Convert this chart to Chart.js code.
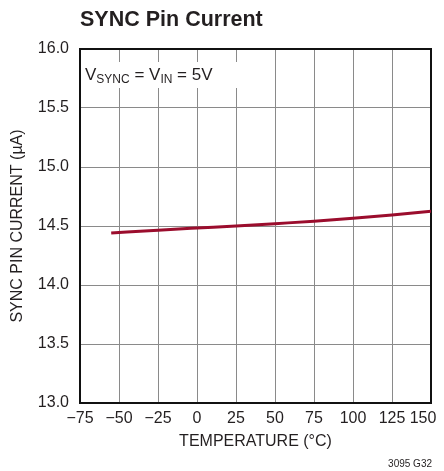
<!DOCTYPE html>
<html>
<head>
<meta charset="utf-8">
<script src="https://cdn.jsdelivr.net/npm/chart.js@4.4.0/dist/chart.umd.min.js"></script>
<style>
  html, body { margin: 0; padding: 0; background: #fff; }
  #wrap { width: 444px; height: 471px; position: relative; }
</style>
</head>
<body>
<div id="wrap"><canvas id="chart" width="444" height="471"></canvas></div>
<script>
// values
var temps = [-55, -25, 0, 25, 50, 75, 100, 125, 150];
var current = [14.44, 14.465, 14.483, 14.5, 14.52, 14.54, 14.565, 14.593, 14.625];
var xTicks = [-75, -50, -25, 0, 25, 50, 75, 100, 125, 150];
var yTicks = [13.0, 13.5, 14.0, 14.5, 15.0, 15.5, 16.0];

var FONT = '"Liberation Sans", Arial, sans-serif';
var INK = '#231f20';

// title, condition note, frame and part number, drawn on the canvas
var extras = {
  id: 'extras',
  beforeDatasetsDraw: function (chart) {
    var ctx = chart.ctx;
    var a = chart.chartArea;
    ctx.save();
    ctx.fillStyle = '#fff';
    ctx.fillRect(a.left + 1, a.top + 13, 164, 26);
    ctx.fillStyle = INK;
    ctx.textBaseline = 'alphabetic';
    ctx.textAlign = 'left';
    var x = a.left + 5, y = a.top + 31;
    var big = '17px ' + FONT, small = '12px ' + FONT;
    var parts = [['V', big, 0], ['SYNC', small, 3], [' = V', big, 0], ['IN', small, 3], [' = 5V', big, 0]];
    parts.forEach(function (p) {
      ctx.font = p[1];
      ctx.fillText(p[0], x, y + p[2]);
      x += ctx.measureText(p[0]).width;
    });
    ctx.strokeStyle = '#111';
    ctx.lineWidth = 2;
    ctx.strokeRect(a.left, a.top, a.right - a.left, a.bottom - a.top);
    ctx.restore();
  },
  afterDraw: function (chart) {
    var ctx = chart.ctx;
    ctx.save();
    ctx.fillStyle = INK;
    ctx.font = 'bold 21.5px ' + FONT;
    ctx.textAlign = 'left';
    ctx.textBaseline = 'middle';
    ctx.fillText('SYNC Pin Current', 80, 20);
    ctx.font = '10px ' + FONT;
    ctx.textAlign = 'right';
    ctx.fillText('3095 G32', 432, 464);
    ctx.restore();
  }
};

new Chart(document.getElementById('chart'), {
  type: 'line',
  data: {
    datasets: [{
      data: temps.map(function (t, i) { return { x: t, y: current[i] }; }),
      borderColor: '#9b0d2d',
      borderWidth: 3,
      pointRadius: 0,
      tension: 0.4,
      cubicInterpolationMode: 'monotone'
    }]
  },
  options: {
    responsive: false,
    animation: false,
    layout: { padding: { top: 49, right: 13, left: 0, bottom: 20 } },
    plugins: { legend: { display: false }, tooltip: { enabled: false } },
    scales: {
      x: {
        type: 'linear',
        min: -75, max: 150,
        afterBuildTicks: function (s) { s.ticks = xTicks.map(function (v) { return { value: v }; }); },
        afterFit: function (s) { s.height = 48; s.paddingLeft = 0; s.paddingRight = 0; },
        grid: { color: '#8a8a8a', lineWidth: 1, drawTicks: false },
        border: { color: '#111', width: 2 },
        ticks: {
          color: INK, padding: 6, maxRotation: 0, autoSkip: false,
          font: { family: FONT, size: 16 },
          callback: function (v) {
            if (v === 150) return '150\u2002\u2002';
            return v < 0 ? '\u2212' + Math.abs(v) : String(v);
          }
        },
        title: {
          display: true, text: 'TEMPERATURE (°C)', color: INK,
          font: { family: FONT, size: 16 }, padding: 0
        }
      },
      y: {
        min: 13, max: 16,
        afterBuildTicks: function (s) { s.ticks = yTicks.map(function (v) { return { value: v }; }); },
        afterFit: function (s) { s.width = 80; s.paddingTop = 0; s.paddingBottom = 0; },
        grid: { color: '#8a8a8a', lineWidth: 1, drawTicks: false },
        border: { color: '#111', width: 2 },
        ticks: {
          color: INK, padding: 11,
          font: { family: FONT, size: 16 },
          callback: function (v) { return v.toFixed(1); }
        },
        title: {
          display: true, text: 'SYNC PIN CURRENT (µA)', color: INK,
          font: { family: FONT, size: 16 }, padding: 8
        }
      }
    }
  },
  plugins: [extras]
});
</script>
</body>
</html>
